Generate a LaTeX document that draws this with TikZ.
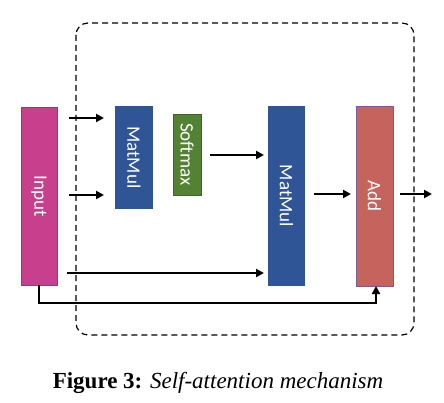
\documentclass[tikz,border=0pt]{standalone}
\usepackage{fontspec}
\setmainfont{Liberation Serif}
\newfontfamily\lblfont{Carlito}
\usetikzlibrary{arrows.meta}
\definecolor{inpink}{HTML}{C6408E}
\definecolor{inedge}{HTML}{7A3E9E}
\definecolor{mmblue}{HTML}{2F5597}
\definecolor{smgreen}{HTML}{548235}
\definecolor{smedge}{HTML}{3F6428}
\definecolor{addred}{HTML}{C5645D}
\definecolor{addedge}{HTML}{7B5A96}
\begin{document}
\begin{tikzpicture}[x=1pt,y=-1pt,
  lbl/.style={text=white, font=\lblfont\fontsize{19}{19}\selectfont, rotate=-90},
  arr/.style={line width=2.2pt, -{Triangle[length=8pt,width=8pt]}},
  ln/.style={line width=2.2pt}]
\useasboundingbox (0,0) rectangle (444,403);
\draw[line width=1.2pt, rounded corners=12pt, dash pattern=on 6pt off 4pt] (76,23) rectangle (414,335);
% boxes
\fill[inpink, draw=inedge, line width=0.8pt] (21,107) rectangle (57,285);
\fill[mmblue] (115,106) rectangle (153,209);
\fill[smgreen, draw=smedge, line width=0.8pt] (173,114) rectangle (201,195);
\fill[mmblue] (268,106) rectangle (305,286);
\fill[addred, draw=addedge, line width=0.8pt] (356,106) rectangle (393,286);
\node[lbl] (input) at (39,196) {Input};
\node[lbl] (mm1) at (134,157.5) {MatMul};
\node[lbl] (sm) at (187,154.5) {Softmax};
\node[lbl] (mm2) at (286.5,196) {MatMul};
\node[lbl] (add) at (374.5,196) {Add};
\coordinate (inB) at (39,285);
\coordinate (addB) at (376,286);
% arrows
\draw[arr] (69,118) -- (104,118);
\draw[arr] (69,195) -- (104,195);
\draw[arr] (210,155) -- (264,155);
\draw[arr] (67,273) -- (264,273);
\draw[arr] (314,194) -- (351,194);
\draw[arr] (400,194) -- (432,194);
\draw[arr] (inB) -- (39,303) -- (376,303) -- (addB);
\node[anchor=base, font=\fontsize{23}{23}\selectfont] (cap) at (218,388) {\textbf{Figure 3:} \textit{Self-attention mechanism}};
\end{tikzpicture}
\end{document}
